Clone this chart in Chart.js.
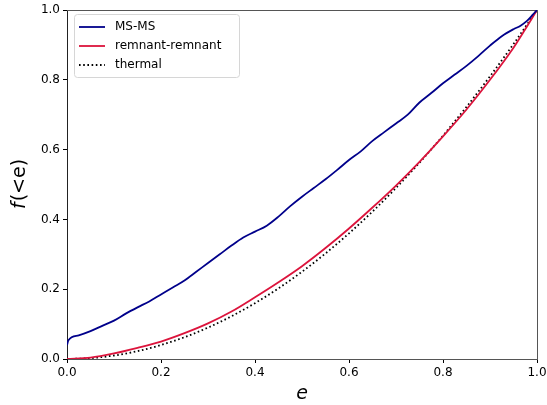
<!DOCTYPE html>
<html>
<head>
<meta charset="utf-8">
<script src="https://cdn.jsdelivr.net/npm/chart.js@4"></script>
<style>
  html, body { margin: 0; padding: 0; background: #fff; }
  canvas { display: block; }
</style>
</head>
<body>
<canvas id="myChart1" width="547" height="405"></canvas>
<script>
// cumulative eccentricity distributions
var eMS = [0, 0.003, 0.025, 0.05, 0.075, 0.1, 0.125, 0.15, 0.175, 0.2, 0.225, 0.25, 0.275, 0.3, 0.325,
           0.35, 0.375, 0.4, 0.425, 0.45, 0.475, 0.5, 0.525, 0.55, 0.575, 0.6, 0.625, 0.65, 0.675, 0.7,
           0.725, 0.75, 0.775, 0.8, 0.825, 0.85, 0.875, 0.9, 0.925, 0.95, 0.965, 0.978, 0.99, 1.0];
var fMS = [0.04, 0.054, 0.068, 0.08, 0.095, 0.11, 0.13, 0.148, 0.165, 0.185, 0.205, 0.225, 0.25, 0.275, 0.3,
           0.325, 0.348, 0.365, 0.382, 0.408, 0.438, 0.465, 0.49, 0.515, 0.542, 0.57, 0.595, 0.625, 0.65, 0.675,
           0.7, 0.735, 0.762, 0.79, 0.815, 0.84, 0.868, 0.898, 0.925, 0.945, 0.955, 0.968, 0.985, 1.0];

var eRR = [0, 0.05, 0.1, 0.15, 0.2, 0.25, 0.3, 0.35, 0.4, 0.45, 0.5, 0.55, 0.6, 0.65, 0.7,
           0.75, 0.8, 0.85, 0.9, 0.95, 0.975, 1.0];
var fRR = [0, 0.004, 0.016, 0.032, 0.05, 0.074, 0.102, 0.136, 0.177, 0.22, 0.266, 0.318, 0.374, 0.434, 0.497,
           0.565, 0.638, 0.715, 0.8, 0.892, 0.945, 1.0];

var eTh = [0, 0.05, 0.1, 0.15, 0.2, 0.25, 0.3, 0.35, 0.4, 0.45, 0.5, 0.55, 0.6, 0.65, 0.7,
           0.75, 0.8, 0.85, 0.9, 0.95, 1.0];
var fTh = [0, 0.0025, 0.01, 0.0225, 0.04, 0.0625, 0.09, 0.1225, 0.16, 0.2025, 0.25, 0.3025, 0.36, 0.4225, 0.49,
           0.5625, 0.64, 0.7225, 0.81, 0.9025, 1.0];

var xTicks = [0, 0.2, 0.4, 0.6, 0.8, 1.0];
var yTicks = [0, 0.2, 0.4, 0.6, 0.8, 1.0];

function pts(xs, ys) {
    return xs.map(function (x, i) { return { x: x, y: ys[i] }; });
}

var FONT = "'DejaVu Sans', sans-serif";

// legend + axis labels drawn like matplotlib
var extras = {
    id: 'extras',
    afterDraw: function (chart) {
        var c = chart.ctx;
        var a = chart.chartArea;
        c.save();

        // axis labels
        c.fillStyle = '#000';
        c.textBaseline = 'middle';
        c.textAlign = 'center';
        c.font = 'italic 19px ' + FONT;
        c.fillText('e', (a.left + a.right) / 2, 394);

        c.translate(20, (a.top + a.bottom) / 2);
        c.rotate(-Math.PI / 2);
        c.font = 'italic 19px ' + FONT;
        var wf = c.measureText('f').width;
        c.font = '19px ' + FONT;
        var wr = c.measureText('(<e)').width;
        var x0 = -(wf + wr) / 2;
        c.textAlign = 'left';
        c.font = 'italic 19px ' + FONT;
        c.fillText('f', x0, 0);
        c.font = '19px ' + FONT;
        c.fillText('(<e)', x0 + wf + 1, 0);
        c.restore();

        // legend box
        c.save();
        var bx = 74, by = 14, bw = 165, bh = 63;
        c.fillStyle = 'rgba(255,255,255,0.9)';
        c.strokeStyle = '#d6d6d6';
        c.lineWidth = 1;
        c.beginPath();
        c.roundRect(bx + 0.5, by + 0.5, bw, bh, 3);
        c.fill();
        c.stroke();
        c.font = '12px ' + FONT;
        c.textBaseline = 'middle';
        c.textAlign = 'left';
        chart.data.datasets.forEach(function (ds, i) {
            var yy = 27 + i * 19;
            c.beginPath();
            c.strokeStyle = ds.borderColor;
            c.lineWidth = ds.borderWidth;
            c.setLineDash(ds.borderDash || []);
            c.moveTo(79, yy);
            c.lineTo(105, yy);
            c.stroke();
            c.setLineDash([]);
            c.fillStyle = '#000';
            c.fillText(ds.label, 115, yy);
        });
        c.restore();
    }
};

var ctx = document.getElementById('myChart1').getContext('2d');

var myChart = new Chart(ctx, {
    type: 'line',
    data: {
        datasets: [{
            label: 'MS-MS',
            data: pts(eMS, fMS),
            borderColor: '#00008b',
            borderWidth: 1.8,
            pointRadius: 0,
            cubicInterpolationMode: 'monotone'
        }, {
            label: 'remnant-remnant',
            data: pts(eRR, fRR),
            borderColor: '#dc143c',
            borderWidth: 1.8,
            pointRadius: 0,
            cubicInterpolationMode: 'monotone'
        }, {
            label: 'thermal',
            data: pts(eTh, fTh),
            borderColor: '#000000',
            borderWidth: 1.8,
            borderDash: [1.6, 2.6],
            pointRadius: 0,
            cubicInterpolationMode: 'monotone'
        }]
    },
    options: {
        responsive: false,
        animation: false,
        devicePixelRatio: 1,
        layout: { padding: { left: 0, right: 10, top: 10, bottom: 0 } },
        plugins: {
            legend: { display: false },
            tooltip: { enabled: false }
        },
        scales: {
            x: {
                type: 'linear',
                min: 0,
                max: 1,
                afterBuildTicks: function (s) { s.ticks = xTicks.map(function (v) { return { value: v }; }); },
                afterFit: function (s) { s.height = 46; s.paddingRight = 0; s.paddingLeft = 0; },
                grid: { display: true, drawOnChartArea: false, drawTicks: true, tickLength: 4, tickColor: '#000' },
                border: { color: '#555', width: 1 },
                ticks: {
                    color: '#000',
                    padding: 3,
                    font: { family: FONT, size: 12 },
                    maxRotation: 0,
                    callback: function (v) { return v.toFixed(1); }
                }
            },
            y: {
                min: 0,
                max: 1,
                afterBuildTicks: function (s) { s.ticks = yTicks.map(function (v) { return { value: v }; }); },
                afterFit: function (s) { s.width = 67; s.paddingTop = 0; s.paddingBottom = 0; },
                grid: { display: true, drawOnChartArea: false, drawTicks: true, tickLength: 4, tickColor: '#000' },
                border: { color: '#222', width: 1 },
                ticks: {
                    color: '#000',
                    padding: 3,
                    font: { family: FONT, size: 12 },
                    callback: function (v) { return v.toFixed(1); }
                }
            },
            x2: {
                type: 'linear',
                position: 'top',
                min: 0, max: 1,
                display: true,
                afterFit: function (s) { s.height = 0; s.paddingRight = 0; s.paddingLeft = 0; },
                grid: { display: false, drawTicks: false },
                border: { color: '#555', width: 1 },
                ticks: { display: false }
            },
            y2: {
                position: 'right',
                min: 0, max: 1,
                display: true,
                afterFit: function (s) { s.width = 0; s.paddingTop = 0; s.paddingBottom = 0; },
                grid: { display: false, drawTicks: false },
                border: { color: '#555', width: 1 },
                ticks: { display: false }
            }
        }
    },
    plugins: [extras]
});
</script>
</body>
</html>
